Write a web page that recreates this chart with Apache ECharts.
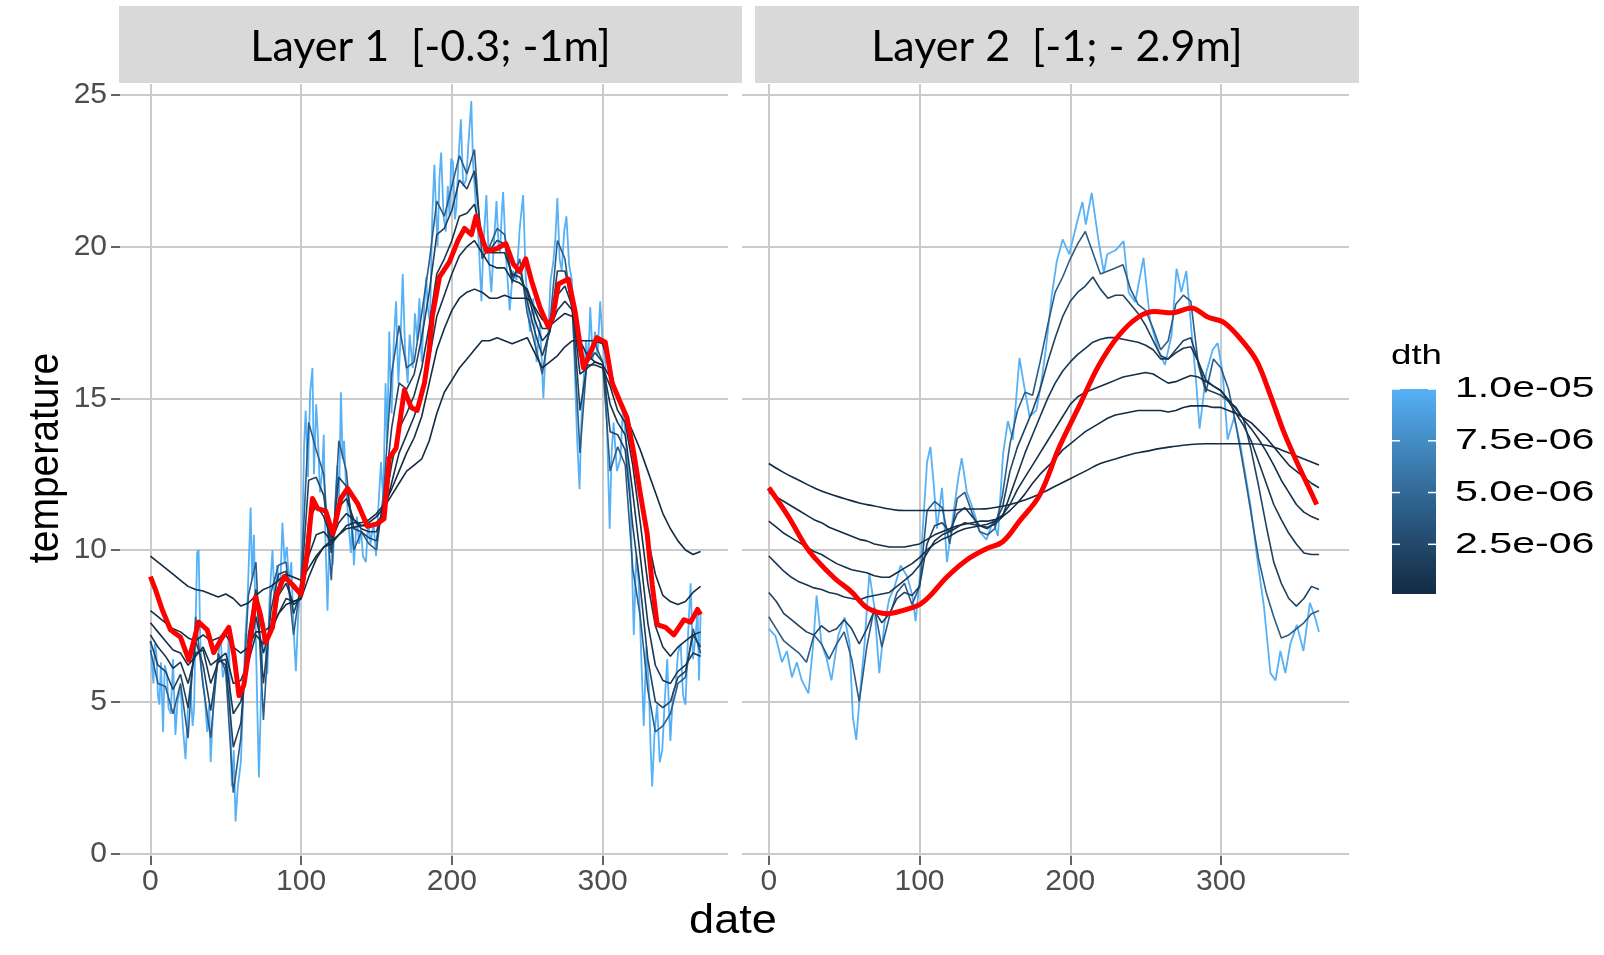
<!DOCTYPE html>
<html><head><meta charset="utf-8"><title>temperature by layer</title>
<script src="https://cdn.jsdelivr.net/npm/echarts@6.0.0/dist/echarts.min.js"></script>
<style>html,body{margin:0;padding:0;background:#ffffff;}#chart{width:1604px;height:955px;}</style>
</head><body><div id="chart"></div>
<script>
// ---------------- DATA ----------------
const panelTitles = ['Layer 1  [-0.3; -1m]', 'Layer 2  [-1; - 2.9m]'];
const xTickValues = [0, 100, 200, 300];
const yTickValues = [0, 5, 10, 15, 20, 25];
const dthValues = [1e-7, 2.5e-7, 5e-7, 1e-6, 2e-6, 4e-6, 1e-5];
const legendTickValues = [1e-5, 7.5e-6, 5e-6, 2.5e-6];
const legendTickLabels = ['1.0e-05', '7.5e-06', '5.0e-06', '2.5e-06'];
const legendMin = 1e-7, legendMax = 1e-5;

const days5 = [0,5,10,15,20,25,30,35,40,45,50,55,60,65,70,75,80,85,90,95,100,105,110,115,120,125,130,135,140,145,150,155,160,165,170,175,180,185,190,195,200,205,210,215,220,225,230,235,240,245,250,255,260,265,270,275,280,285,290,295,300,305,310,315,320,325,330,335,340,345,350,355,360,365];
const days10 = [0,10,20,30,40,50,60,70,80,90,100,110,120,130,140,150,160,170,180,190,200,210,220,230,240,250,260,270,280,290,300,310,320,330,340,350,360,365];

// Layer 1 (values on days5)
const layer1_dth1 = [9.8,9.6,9.4,9.2,9.0,8.8,8.7,8.65,8.55,8.45, 8.55,8.4,8.15,8.25,8.5,8.7,8.8,9.0,9.2,9.1, 9.0,9.4,9.8,10.1,10.3,10.5,10.7,10.75,10.8,10.9, 11.1,11.4,11.8,12.2,12.6,12.8,13.0,13.6,14.5,15.2, 15.6,16.0,16.3,16.6,16.9,16.9,17.0,16.9,16.8,16.9, 17.0,16.5,16.0,16.2,16.4,16.7,16.9,16.9,16.9,16.9, 16.8,16.0,15.0,14.4,13.9,13.3,12.6,11.9,11.2,10.7, 10.3,10.0,9.85,9.95];
const layer1_dth2 = [8.0,7.8,7.6,7.4,7.3,7.1,7.0,7.2,7.0,7.1, 7.2,6.8,6.6,6.8,7.3,7.3,7.5,7.9,8.2,8.3, 8.4,9.1,9.7,10.1,10.2,10.5,10.8,10.9,10.9,11.0, 11.2,11.5,12.0,12.6,13.2,13.7,14.4,15.5,16.6,17.3, 17.9,18.3,18.5,18.6,18.5,18.3,18.3,18.4,18.3,18.3, 18.3,18.0,17.6,17.4,17.6,17.8,17.7,16.9,16.4,16.2, 16.1,15.7,15.0,14.6,13.6,12.0,10.4,9.2,8.5,8.3, 8.2,8.3,8.6,8.8];
const layer1_dth3 = [7.6,7.3,7.0,6.7,6.6,6.2,6.5,6.8,6.2,6.4, 6.6,5.6,5.7,6.3,7.2,6.9,7.3,7.9,8.4,8.3, 8.4,9.8,10.5,10.6,10.3,10.9,11.2,11.0,10.8,10.8, 10.9,11.2,12.2,13.2,13.8,14.4,15.2,16.3,17.7,18.4, 19.1,19.7,20.0,20.2,19.8,19.4,19.3,19.3,18.9,18.8, 18.6,17.9,17.3,17.3,17.9,18.2,17.9,16.4,16.1,16.1, 16.0,15.4,14.6,14.2,12.8,10.9,8.9,7.5,6.8,6.5, 6.8,7.0,7.2,7.3];
const layer1_dth4 = [7.2,6.8,6.5,6.1,6.3,5.6,6.6,6.7,5.6,6.3, 6.4,4.6,5.0,6.4,7.8,6.6,7.5,8.5,8.9,8.2, 8.4,10.9,11.5,11.1,10.4,11.4,11.7,11.0,10.7,10.6, 10.6,11.3,12.8,14.0,14.5,15.1,16.0,17.4,19.1,19.6, 20.2,21.0,21.1,21.4,20.3,19.8,19.8,19.8,19.1,19.0, 18.5,17.6,16.9,17.2,18.4,18.7,18.0,15.8,16.0,16.2, 16.1,14.8,14.2,13.8,11.9,9.8,7.6,6.2,5.7,5.6, 6.0,6.2,6.6,6.5];
const layer1_dth5 = [7.0,6.2,6.0,5.4,5.9,4.8,7.0,6.2,4.7,6.4, 6.2,3.5,4.3,7.2,8.7,5.6,8.0,9.2,9.3,7.9, 8.7,12.3,12.4,11.8,9.9,12.4,12.1,10.7,10.6,10.4, 10.3,11.6,14.0,15.5,15.3,15.8,17.0,18.5,20.4,20.6, 21.2,22.2,21.9,22.5,20.1,19.9,20.2,20.1,19.0,19.3, 18.2,17.2,16.4,17.2,19.2,19.2,18.0,14.6,16.2,16.5, 16.2,13.9,13.8,13.3,10.8,8.8,6.4,5.0,4.8,5.0, 5.8,6.0,7.2,6.8];
const layer1_dth6 = [6.7,5.6,5.5,4.6,5.6,3.8,7.8,5.5,3.8,6.6, 6.0,2.0,3.8,8.5,9.6,4.4,8.6,9.5,9.6,7.2, 9.0,14.2,13.3,12.5,9.0,13.6,12.6,10.0,10.6,10.2, 10.0,12.0,15.8,17.4,16.0,16.2,17.8,19.5,21.5,21.0, 22.0,23.0,22.4,23.2,19.6,20.0,20.6,20.4,18.8,19.6, 17.8,16.8,15.8,17.4,20.2,19.6,17.8,13.2,16.5,16.8, 16.2,12.6,13.4,12.8,9.4,7.8,5.4,4.0,4.2,4.6, 5.6,5.8,7.4,6.6];
// Layer 1, most variable series: [day, temperature]
const layer1_dth7 = [[0,7.0],[1,6.2],[2,5.6],[3,6.9],[4,6.6],[5,5.2],[6,4.9],[7,6.3],[8.4,4.0],[9.5,6.2],[11,5.9],[12,4.8],[13.5,4.6],[15,6.4],[16.6,3.9],[18,5.0],[20,5.5],[21.5,4.2],[23.3,3.1],[25,4.9],[26.6,5.5],[28,4.2],[29,4.8],[30,7.5],[31,9.9],[32,10.0],[33,7.2],[34,6.0],[36,5.2],[37.7,4.0],[39,4.9],[40,3.0],[41.5,4.6],[43,5.9],[45,6.5],[46.6,7.2],[48,5.8],[50,6.2],[51,5.3],[52,7.5],[53,4.6],[54,2.2],[55.3,3.4],[56.5,1.05],[58,2.2],[60,3.0],[61.5,5.0],[63,7.2],[64.5,8.4],[66.5,11.4],[67.5,9.0],[68.7,10.5],[70,7.0],[71,4.6],[72,2.5],[73,4.4],[74,6.4],[75.5,7.6],[77.6,5.9],[79,8.4],[81,10.0],[82.5,8.1],[84,9.5],[86,8.6],[87.6,10.9],[89,9.6],[90.5,10.1],[92,8.9],[93.5,9.6],[95,7.4],[96.5,6.0],[98,7.8],[99.8,8.9],[101,11.0],[102,13.5],[103,14.6],[104.5,12.4],[106,15.2],[107.5,16.0],[108.5,12.5],[110,14.8],[111,13.9],[112.5,11.9],[114,12.6],[115,13.8],[116,10.6],[117.5,8.0],[119,10.9],[121,9.5],[122.5,11.4],[124,12.8],[125,11.2],[126.4,15.2],[127.5,13.0],[128.5,13.6],[129.7,12.2],[131,11.2],[133,9.9],[134,10.9],[135,9.5],[137,11.1],[138.5,10.2],[139.7,10.7],[141,9.8],[143,9.6],[144.5,11.0],[146,10.2],[148,10.9],[149.7,9.8],[151,11.2],[153,12.9],[154.5,11.6],[156,15.5],[157,13.5],[158.5,17.2],[160,14.5],[161.5,16.9],[163,18.2],[164.5,15.5],[166,17.0],[167.4,19.1],[169,16.5],[170.7,15.5],[172,17.1],[174,16.0],[175.5,17.8],[177,16.9],[178.5,18.3],[180,16.2],[181.5,17.9],[183,19.0],[184,18.0],[185.5,17.5],[187,21.0],[188.4,22.7],[189.5,21.2],[190.5,20.0],[191.8,22.3],[192.9,23.1],[194.5,21.0],[196,20.5],[197.3,22.0],[198.5,21.0],[199.5,22.9],[200.7,22.8],[202,20.9],[203,21.3],[204.5,23.0],[206,24.2],[207.5,22.0],[209.5,22.2],[211,23.4],[212.9,24.8],[214,22.8],[216,21.3],[217.8,20.2],[219.6,18.2],[221,20.1],[222.9,21.7],[224.5,19.6],[226.2,18.5],[228,20.2],[229.6,21.5],[231,20.0],[232,19.8],[233,21.0],[234,21.8],[236,19.6],[238.4,17.9],[240.5,19.2],[242.9,18.9],[245,20.6],[247.3,21.7],[249,19.0],[251.8,17.2],[254,18.3],[256.2,16.2],[258.5,17.5],[260.7,15.0],[262.3,16.6],[264,17.2],[265.5,18.9],[267.3,19.5],[268.7,20.3],[270,21.6],[271.5,19.6],[272.9,19.2],[274.5,20.5],[276,21.0],[277.8,19.4],[279.6,18.9],[281.2,16.5],[282.9,13.9],[284.7,12.0],[286,14.4],[287.3,15.5],[289,16.9],[290.5,16.2],[291.8,18.0],[293.5,16.3],[295,17.2],[296.6,16.4],[298.4,18.2],[300,16.9],[301.8,16.2],[303.2,13.5],[304.7,10.7],[306,13.2],[307.3,14.2],[309.5,12.6],[311.8,13.0],[313.5,14.7],[315,13.9],[316.7,12.8],[318.4,11.9],[319.6,9.3],[320.7,7.2],[322.3,9.8],[324,8.9],[325.7,6.4],[327.3,4.2],[329,6.8],[330.7,5.5],[331.8,3.6],[332.9,2.2],[334.5,4.0],[336.2,4.9],[337.9,3.0],[339.6,3.4],[341.2,5.0],[342.9,6.4],[344,4.8],[345,3.7],[346.7,5.3],[348.4,5.5],[350,6.6],[351.8,6.9],[353.4,5.2],[355,4.9],[356.7,7.2],[358.4,8.9],[360,6.4],[361.8,7.2],[363,8.1],[364,5.7],[365,7.9]];
const layer1_red = [[0,9.12],[3.3,8.7],[7.8,8.04],[13.3,7.37],[20,7.12],[25.5,6.37],[32,7.62],[37.7,7.37],[42,6.62],[47.7,7.12],[52,7.45],[55.4,6.54],[58.8,5.2],[62,5.54],[65.4,6.7],[69.8,8.45],[73,7.87],[76.5,6.95],[81,7.45],[84,8.54],[88.7,9.12],[94,8.87],[99.8,8.54],[104,9.87],[107.5,11.7],[111,11.36],[116.4,11.28],[121,10.53],[126.4,11.7],[130.8,12.03],[137.5,11.53],[144,10.78],[150.8,10.87],[155,11.03],[158.5,13.03],[163,13.36],[168.5,15.27],[173,14.7],[177,14.6],[181.8,15.5],[185,16.6],[187,17.7],[191.8,19.0],[198.4,19.5],[204,20.2],[208.4,20.6],[213,20.4],[216,21.0],[219.6,20.35],[223,19.85],[229.6,19.93],[235.8,20.1],[240.7,19.43],[245,19.18],[249,19.6],[253,18.85],[258.4,18.0],[264,17.35],[267,17.7],[270.7,18.77],[277.3,18.93],[281.8,17.85],[287.3,16.0],[291.8,16.5],[296.2,17.0],[301.8,16.85],[306.2,15.52],[311.8,14.86],[316.2,14.36],[320.7,13.2],[325,11.86],[329.6,10.53],[332.9,8.87],[336.2,7.54],[341.8,7.45],[347.3,7.2],[354,7.7],[358.4,7.62],[363,8.04],[365,7.87]];

// Layer 2
const layer2_dth1 = [12.85,12.55,12.3,12.05,11.85,11.7,11.55,11.45,11.35,11.3,11.3,11.3,11.3,11.35,11.35,11.4,11.5,11.65,11.85,12.1,12.35,12.6,12.85,13.0,13.15,13.25,13.35,13.42,13.48,13.5,13.5,13.5,13.5,13.45,13.3,13.1,12.9,12.8];
const layer2_dth2 = [11.9,11.75,11.6,11.45,11.3,11.15,11.0,10.9,10.75,10.65, 10.55,10.45,10.35,10.3,10.2,10.15,10.1,10.1,10.1,10.15, 10.2,10.35,10.5,10.6,10.7,10.8,10.85,10.9,10.95,10.95, 11.0,11.1,11.3,11.55,11.85,12.2,12.5,12.75,13.0,13.3, 13.5,13.7,13.9,14.05,14.2,14.35,14.45,14.5,14.55,14.6, 14.6,14.6,14.6,14.55,14.6,14.7,14.75,14.75,14.75,14.7, 14.7,14.6,14.5,14.35,14.2,13.95,13.7,13.4,13.1,12.8, 12.6,12.4,12.2,12.05];
const layer2_dth3 = [10.95,10.75,10.55,10.4,10.25,10.1,9.95,9.85,9.7,9.55, 9.45,9.35,9.3,9.25,9.15,9.1,9.1,9.25,9.4,9.55, 9.75,10.0,10.2,10.35,10.45,10.6,10.7,10.75,10.8,10.85, 10.95,11.15,11.5,12.0,12.4,12.8,13.2,13.6,14.0,14.4, 14.8,15.05,15.2,15.3,15.4,15.5,15.6,15.7,15.75,15.8, 15.85,15.8,15.65,15.5,15.55,15.65,15.75,15.7,15.55,15.4, 15.25,14.95,14.65,14.3,14.0,13.65,13.25,12.8,12.3,11.9, 11.5,11.25,11.1,11.0];
const layer2_dth4 = [9.8,9.55,9.3,9.1,8.95,8.85,8.75,8.7,8.6,8.55, 8.45,8.4,8.35,8.45,8.5,8.55,8.6,8.8,9.0,9.2, 9.5,9.9,10.3,10.5,10.6,10.75,10.9,10.85,10.8,10.75, 10.85,11.1,11.8,12.5,13.2,13.8,14.4,15.0,15.5,15.9, 16.2,16.45,16.65,16.85,16.95,17.0,17.0,16.95,16.9,16.85, 16.75,16.6,16.3,16.3,16.5,16.65,16.7,16.2,15.6,15.4, 15.25,14.9,14.5,14.1,13.6,12.9,12.2,11.5,11.0,10.55, 10.2,9.9,9.85,9.85];
const layer2_dth5 = [8.6,8.3,7.9,7.7,7.5,7.3,7.2,7.5,7.3,7.4, 7.7,7.4,6.9,7.4,8.0,7.6,7.9,8.4,8.6,8.5, 8.8,10.2,10.8,10.9,10.6,11.2,11.4,11.1,10.8,10.7, 10.9,11.4,12.6,13.4,14.0,14.6,15.3,16.2,17.0,17.7, 18.2,18.5,18.7,19.0,18.6,18.3,18.4,18.4,18.1,17.8, 17.4,16.9,16.4,16.3,16.6,16.9,17.0,16.2,15.3,15.2, 15.1,14.9,14.7,14.3,13.3,12.1,10.8,9.6,8.9,8.4, 8.15,8.4,8.8,8.7];
const layer2_dth6 = [7.8,7.4,7.0,6.8,6.6,6.3,7.2,6.9,6.4,6.9, 7.3,6.4,5.0,6.8,8.1,6.8,7.8,8.6,8.9,8.2, 8.8,11.3,11.6,11.4,10.2,11.7,11.9,11.2,10.6,10.5, 10.7,11.8,13.5,14.6,15.2,15.1,16.2,17.4,18.5,19.0, 19.6,20.1,20.5,19.8,19.1,19.2,19.3,19.4,18.6,18.1, 17.9,17.3,16.6,16.9,18.1,18.4,18.2,16.1,15.2,16.3, 16.0,15.3,14.1,12.7,11.2,9.7,8.6,7.8,7.1,7.2, 7.4,7.6,7.9,8.0];
const layer2_dth7 = [[0,7.4],[4.4,7.17],[8.75,6.3],[12,6.67],[15.3,5.8],[18.6,6.3],[21.9,5.7],[26.3,5.27],[29.5,6.9],[31.7,8.5],[35,6.9],[38.3,6.43],[41.6,5.7],[46,7.17],[50.3,7.78],[53.6,6.9],[55.8,4.47],[58,3.74],[60.2,5.09],[63.5,6.9],[66.7,9.24],[70,8.14],[73.3,5.94],[76.6,7.53],[79.9,8.39],[83.2,8.75],[87.5,9.49],[91.9,9.12],[95.2,8.5],[97.4,7.65],[100,9.0],[102.8,11.2],[105,12.9],[107.2,13.4],[109.4,12.17],[111.6,10.7],[114.9,12.05],[118.2,9.6],[122.5,11.2],[125.8,12.4],[128,13.03],[131.3,11.93],[135.7,11.32],[140,10.6],[144.4,10.34],[148.8,10.95],[152,10.46],[155.4,13.15],[158.6,14.25],[161.9,13.64],[166.3,16.33],[169.6,15.35],[173,14.4],[177.5,14.6],[181,15.6],[184,16.7],[187.5,18.3],[191,19.5],[195,20.24],[199.3,19.75],[204.8,20.86],[208.1,21.47],[210.3,20.73],[214.2,21.77],[219,20.12],[222.3,19.14],[224.5,19.75],[230,19.88],[235.4,20.18],[238.7,18.5],[243.1,18.17],[248.6,19.63],[253,17.55],[258.4,16.6],[262.8,16.1],[267.2,17.07],[270.5,19.27],[273.7,18.5],[277,19.2],[280.3,17.3],[283.6,15.48],[285.8,14.0],[290.2,15.84],[294.5,16.6],[297.8,16.82],[301.1,15.84],[304.4,13.64],[308.8,14.38],[313.1,13.4],[319.7,11.44],[324,9.73],[328.5,8.14],[332.8,5.94],[336.2,5.7],[339.4,6.67],[342.7,5.94],[346,6.9],[350.3,7.53],[354.7,6.67],[359,8.26],[362.4,7.78],[365,7.3]];
const layer2_red = [[0,12.05],[13,11.1],[24,10.16],[30.6,9.73],[43.8,9.06],[54.7,8.63],[65.6,8.08],[78.8,7.9],[89.7,8.02],[100,8.2],[107.2,8.5],[118,9.1],[131.3,9.67],[144.4,10.04],[155.4,10.28],[166.3,10.95],[179.6,11.8],[192.8,13.4],[205.9,14.74],[219,16.09],[232.2,17.07],[245.3,17.68],[256.2,17.86],[267.2,17.82],[280.3,17.98],[291.2,17.68],[302.2,17.49],[315.3,16.82],[324,16.2],[332.8,15.1],[341.6,13.9],[350.3,12.9],[356.9,12.2],[363.5,11.5]];

// ---------------- LAYOUT / STYLE ----------------
const FONT = '"Liberation Sans", Arial, sans-serif';
const ppd = 1.5073;             // pixels per day
const yTop = 95, yH = 758.3;    // pixel span of 0..25
const panelTop = 84, panelBottom = 856;
const panels = [
  {left: 120, width: 608, x0: 150.4, stripX: 119, stripW: 623, titleX: 430.5},
  {left: 742, width: 607, x0: 768.8, stripX: 755, stripW: 604, titleX: 1057}
];
const gridColor = '#CBCBCB';
const tickStyle = {color: '#333333', width: 1.5};

// ggplot-like Lab gradient #132B43 -> #56B1F7
function hexToRgb(h){return [parseInt(h.slice(1,3),16),parseInt(h.slice(3,5),16),parseInt(h.slice(5,7),16)];}
function toLab(rgb){
  const lin = rgb.map(c=>{c/=255;return c<=0.04045?c/12.92:Math.pow((c+0.055)/1.055,2.4);});
  const X=(0.4124*lin[0]+0.3576*lin[1]+0.1805*lin[2])/0.95047;
  const Y=(0.2126*lin[0]+0.7152*lin[1]+0.0722*lin[2]);
  const Z=(0.0193*lin[0]+0.1192*lin[1]+0.9505*lin[2])/1.08883;
  const f=t=>t>0.008856?Math.cbrt(t):7.787*t+16/116;
  return [116*f(Y)-16, 500*(f(X)-f(Y)), 200*(f(Y)-f(Z))];
}
function fromLab(L){
  const fy=(L[0]+16)/116, fx=fy+L[1]/500, fz=fy-L[2]/200;
  const inv=t=>{const t3=t*t*t;return t3>0.008856?t3:(t-16/116)/7.787;};
  const X=0.95047*inv(fx), Y=inv(fy), Z=1.08883*inv(fz);
  let r=3.2406*X-1.5372*Y-0.4986*Z, g=-0.9689*X+1.8758*Y+0.0415*Z, b=0.0557*X-0.2040*Y+1.0570*Z;
  const gam=c=>{c=c<=0.0031308?12.92*c:1.055*Math.pow(c,1/2.4)-0.055;return Math.max(0,Math.min(255,Math.round(c*255)));};
  return 'rgb('+gam(r)+','+gam(g)+','+gam(b)+')';
}
const labLow = toLab(hexToRgb('#132B43')), labHigh = toLab(hexToRgb('#56B1F7'));
function colorAt(t){return fromLab(labLow.map((v,i)=>v+(labHigh[i]-v)*t));}
function dthColor(v){return colorAt((v-legendMin)/(legendMax-legendMin));}

// ---------------- BUILD ----------------
const zip = (xs, ys) => xs.map((x,i)=>[x, ys[i]]);
const panelSeries = [
  {lines: [layer1_dth7, zip(days5,layer1_dth6), zip(days5,layer1_dth5), zip(days5,layer1_dth4), zip(days5,layer1_dth3), zip(days5,layer1_dth2), zip(days5,layer1_dth1)], red: layer1_red, smooth: false},
  {lines: [layer2_dth7, zip(days5,layer2_dth6), zip(days5,layer2_dth5), zip(days5,layer2_dth4), zip(days5,layer2_dth3), zip(days5,layer2_dth2), zip(days10,layer2_dth1)], red: layer2_red, smooth: true}
];
const dthOrder = [6,5,4,3,2,1,0];

const grids=[], xAxes=[], yAxes=[], series=[];
panels.forEach((P,p)=>{
  const gH=3*p, gV=3*p+1, gD=3*p+2;
  grids.push({left:P.left, top:yTop, width:P.width, height:yH, containLabel:false, outerBoundsMode:'none'});
  xAxes.push({gridIndex:gH, type:'value', min:0, max:1, show:false});
  yAxes.push({gridIndex:gH, type:'value', min:yTickValues[0], max:yTickValues[yTickValues.length-1], interval:yTickValues[1]-yTickValues[0],
    axisLine:{show:false}, axisTick:{show:p===0, length:9, lineStyle:tickStyle},
    axisLabel:{show:p===0, fontSize:30, color:'#4D4D4D', margin:13, fontFamily:FONT},
    splitLine:{show:true, lineStyle:{color:gridColor, width:2}}});
  grids.push({left:P.x0, top:panelTop, width:(xTickValues[xTickValues.length-1]-xTickValues[0])*ppd, height:panelBottom-panelTop, containLabel:false, outerBoundsMode:'none'});
  xAxes.push({gridIndex:gV, type:'value', min:xTickValues[0], max:xTickValues[xTickValues.length-1], interval:xTickValues[1]-xTickValues[0], position:'bottom',
    axisLine:{show:false}, axisTick:{show:true, length:9, lineStyle:tickStyle},
    axisLabel:{fontSize:30, color:'#4D4D4D', margin:11, fontFamily:FONT},
    splitLine:{show:true, lineStyle:{color:gridColor, width:2}}});
  yAxes.push({gridIndex:gV, type:'value', min:0, max:1, show:false});
  grids.push({left:P.x0, top:yTop, width:365*ppd, height:yH, containLabel:false, outerBoundsMode:'none'});
  xAxes.push({gridIndex:gD, type:'value', min:0, max:365, show:false});
  yAxes.push({gridIndex:gD, type:'value', min:0, max:25, show:false});

  const S = panelSeries[p];
  S.lines.forEach((data,k)=>{
    const di = dthOrder[k];
    series.push({type:'line', name:'dth '+dthValues[di], xAxisIndex:gD, yAxisIndex:gD, data:data,
      symbol:'none', showSymbol:false, clip:false, silent:true, smooth: (p===1 && di===0) ? 0.5 : false,
      lineStyle:{color:dthColor(dthValues[di]), width: di===6 ? 1.8 : 1.6}, z:2+k});
  });
  series.push({type:'line', name:'mean', xAxisIndex:gD, yAxisIndex:gD, data:S.red, symbol:'none', showSymbol:false,
    clip:false, silent:true, smooth: S.smooth ? 0.35 : false, lineStyle:{color:'#FF0000', width:5, join:'round'}, z:20});
});

// legend + strips + titles
const barTop = 389, barBottom = 594, barX = 1392, barW = 44;
const vToY = v => barTop + (legendMax - v)/(legendMax - legendMin)*(barBottom - barTop);
const stops = [];
for (let i=0;i<=20;i++){ stops.push({offset:i/20, color: colorAt(1 - i/20)}); }

const g = [];
panels.forEach((P,p)=>{
  g.push({type:'rect', shape:{x:P.stripX, y:6, width:P.stripW, height:77}, style:{fill:'#D9D9D9'}, silent:true});
  g.push({type:'text', x:P.titleX, y:47, style:{text:panelTitles[p], fontSize:43, fontFamily:'Lato, "Liberation Sans", sans-serif', fill:'#000000', textAlign:'center', textVerticalAlign:'middle', align:'center', verticalAlign:'middle'}, silent:true});
});
g.push({type:'text', x:733, y:922, scaleX:1.1, style:{text:'date', fontSize:41, fontFamily:FONT, fill:'#000000', textAlign:'center', textVerticalAlign:'middle', align:'center', verticalAlign:'middle'}});
g.push({type:'text', x:46, y:458, rotation:Math.PI/2, scaleY:1.08, style:{text:'temperature', fontSize:39, fontFamily:FONT, fill:'#000000', textAlign:'center', textVerticalAlign:'middle', align:'center', verticalAlign:'middle'}});
g.push({type:'text', x:1391, y:356, scaleX:1.31, style:{text:'dth', fontSize:28, fontFamily:FONT, fill:'#000000', textAlign:'left', textVerticalAlign:'middle', align:'left', verticalAlign:'middle'}});
g.push({type:'rect', shape:{x:barX, y:barTop, width:barW, height:barBottom-barTop},
  style:{fill:new echarts.graphic.LinearGradient(0,0,0,1,stops)}});
legendTickValues.forEach((v,i)=>{
  const y = vToY(v);
  g.push({type:'line', shape:{x1:barX, y1:y, x2:barX+8, y2:y}, style:{stroke:'#FFFFFF', lineWidth:1.5}});
  g.push({type:'line', shape:{x1:barX+barW-8, y1:y, x2:barX+barW, y2:y}, style:{stroke:'#FFFFFF', lineWidth:1.5}});
  g.push({type:'text', x:1455, y:y, scaleX:1.37, style:{text:legendTickLabels[i], fontSize:30, fontFamily:FONT, fill:'#000000', textAlign:'left', textVerticalAlign:'middle', align:'left', verticalAlign:'middle'}});
});

const chart = echarts.init(document.getElementById('chart'), null, {renderer:'canvas'});
chart.setOption({
  animation:false,
  backgroundColor:'#FFFFFF',
  grid:grids, xAxis:xAxes, yAxis:yAxes, series:series,
  graphic:{elements:g}
});
</script>
</body></html>
